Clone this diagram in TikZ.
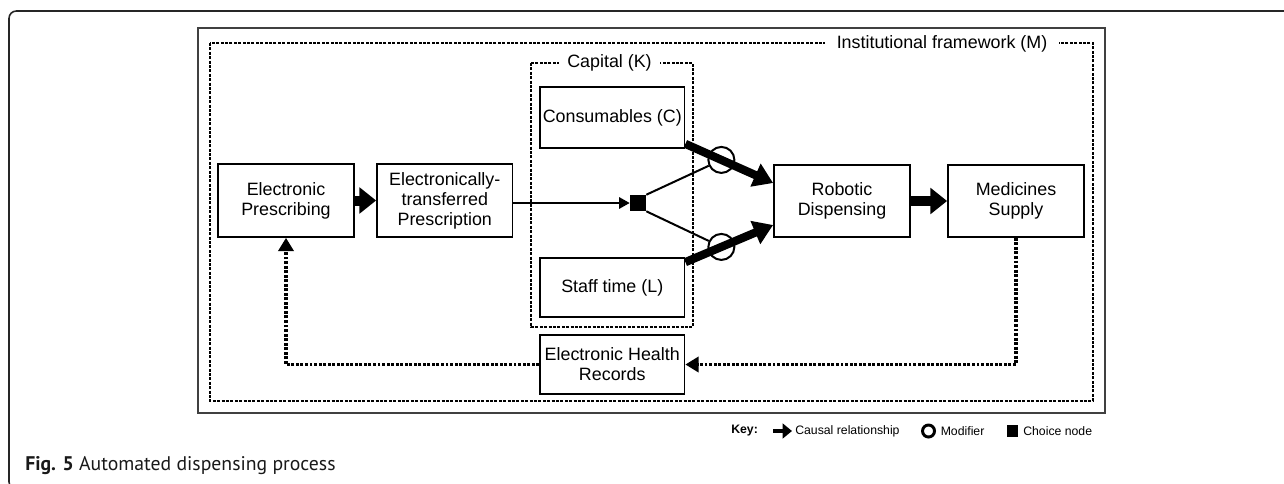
\documentclass[tikz,border=0pt]{standalone}
\usepackage{fontspec}
\setmainfont{Liberation Sans}
\newfontfamily\capfont{PT Sans}
\usetikzlibrary{arrows.meta,calc}
\begin{document}
\begin{tikzpicture}[x=0.75pt,y=-0.75pt,
  txt/.style={font=\fontsize{13.4}{15}\selectfont},
  box/.style={txt, draw=black, line width=1.3pt, inner sep=0pt, align=center},
  framelbl/.style={txt, fill=white, inner ysep=1pt},
  fat/.style={line width=7.5pt, -{Triangle[length=12.5pt,width=19pt]}},
  diag/.style={line width=6.2pt, -{Triangle[length=14.5pt,width=18pt]}},
  thinarr/.style={line width=1.5pt},
  modifier/.style={circle, draw=black, line width=1.5pt, minimum size=19.5pt, inner sep=0pt},
  choice/.style={fill=black, minimum size=12pt, inner sep=0pt},
  fb/.style={line width=2.3pt, dash pattern=on 2.2pt off 1.2pt, -{Triangle[length=10pt,width=11.5pt]}},
  keytxt/.style={font=\fontsize{9.2}{10}\selectfont, anchor=west, inner sep=0pt}
]
\useasboundingbox (0,0) rectangle (1284,483);
\clip (0,0) rectangle (1284,483);

% outer page frame
\draw[line width=1.2pt, draw=black!85, rounded corners=5.5pt] (1300,11) -- (9,11) -- (9,489) -- (1300,489);

% outer solid box
\draw[line width=1.1pt, draw=black!75] (198,28) rectangle (1105,413);

% institutional framework
\draw[line width=0.9pt, dash pattern=on 2.2pt off 1.1pt] (210,43) rectangle (1093,401);
\node[framelbl, inner xsep=9pt] (inst) at (942,44) {Institutional framework (M)};

% capital
\draw[line width=0.9pt, dash pattern=on 2.2pt off 1.1pt] (531,63) rectangle (693,327);
\node[framelbl, inner xsep=6pt] (cap) at (609.5,63) {Capital (K)};

% boxes
\node[box, minimum width=102pt, minimum height=54.75pt] (ep) at (286,200.5) {Electronic\\Prescribing};
\node[box, minimum width=101.6pt, minimum height=54.75pt] (etp) at (444.75,200.5) {Electronically-\\transferred\\Prescription};
\node[box, minimum width=108.4pt, minimum height=45.75pt] (cons) at (612.25,117.5) {Consumables (C)};
\node[box, minimum width=108.4pt, minimum height=44.25pt] (staff) at (612.25,287.5) {Staff time (L)};
\node[box, minimum width=108.4pt, minimum height=44.25pt] (ehr) at (612.25,364.5) {Electronic Health\\Records};
\node[box, minimum width=102pt, minimum height=54pt] (rob) at (842,201) {Robotic\\Dispensing};
\node[box, minimum width=102pt, minimum height=54pt] (med) at (1016,201) {Medicines\\Supply};

% choice node
\node[choice] (sq) at (638,203) {};
\draw[thinarr, -{Triangle[length=8pt,width=8.5pt]}] (etp.east |- sq.west) -- (sq.west);

% thick diagonal arrows with modifiers
\coordinate (a1s) at ($(cons.south east)+(0,-5)$);
\coordinate (a1e) at ($(rob.west)+(0,-18)$);
\coordinate (a2s) at ($(staff.north east)+(0,5)$);
\coordinate (a2e) at ($(rob.west)+(0,24)$);
\path (a1s) -- (a1e) node[modifier, pos=0.41] (m1) {};
\path (a2s) -- (a2e) node[modifier, pos=0.41] (m2) {};
\draw[thinarr] (sq.north east) -- (m1);
\draw[thinarr] (sq.south east) -- (m2);
\draw[diag] (a1s) -- (a1e);
\draw[diag] (a2s) -- (a2e);

% causal arrows
\draw[fat] (ep) -- (etp);
\draw[fat] (rob) -- (med);

% feedback
\draw[fb] (med.south) |- (ehr.east);
\draw[fb] (ehr.west) -| (ep.south);

% key
\node[keytxt, font=\bfseries\fontsize{9.2}{10}\selectfont] (key) at (731,431) {Key:};
\coordinate (k1) at (773,431);
\coordinate (k2) at (792,431);
\draw[line width=3.6pt, -{Triangle[length=7pt,width=11pt]}] (k1) -- (k2);
\node[keytxt] (kc) at (795,431) {Causal relationship};
\node[circle, draw=black, line width=2.2pt, minimum size=9pt, inner sep=0pt] (kmod) at (928.5,431) {};
\node[keytxt] (km) at (940.5,431) {Modifier};
\node[fill=black, minimum size=8.6pt, inner sep=0pt] (ksq) at (1012.5,431) {};
\node[keytxt] (kch) at (1023,431) {Choice node};

% caption
\node[anchor=base west, inner sep=0pt, text=black!90, font=\capfont\fontsize{14.8}{16}\selectfont] (cap5) at (25,470) {\textbf{Fig. 5} Automated dispensing process};
\end{tikzpicture}
\end{document}
